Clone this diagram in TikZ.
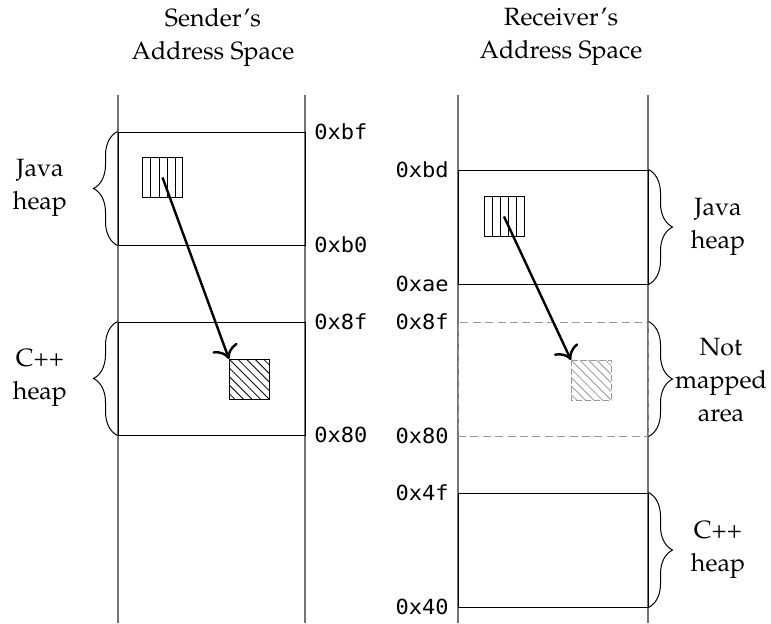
\documentclass[tikz,border=0pt]{standalone}
\usepackage[T1]{fontenc}
\usepackage{fontspec}
\newfontfamily\addrfont[FakeStretch=1.06]{DejaVu Sans Mono}
\usetikzlibrary{decorations.pathreplacing,arrows.meta,fit}
\newcommand\palfont{\fontencoding{T1}\fontfamily{ppl}\selectfont}
\begin{document}
\begin{tikzpicture}[x=0.5pt,y=-0.5pt,
  axisline/.style={draw=black!55,line width=0.6pt},
  membox/.style={draw=black,line width=0.5pt,inner sep=0pt},
  ghostbox/.style={draw=black!40,line width=0.5pt,dash pattern=on 4pt off 2.2pt,inner sep=0pt},
  lbl/.style={align=center,inner sep=0pt,font=\palfont\fontsize{12.5}{16.5}\selectfont},
  addr/.style={inner sep=0pt,font=\addrfont\fontsize{10.4}{12}\selectfont},
  bracedec/.style={decorate,decoration={brace,amplitude=12pt},line width=0.5pt},
  objbox/.style={line width=0.5pt,minimum width=19.5pt,minimum height=19.5pt,inner sep=0pt},
  hatchline/.style={line width=0.4pt},
  flowarrow/.style={line width=1.2pt,-{Computer Modern Rightarrow[scale=1.5]}}
]
\useasboundingbox (0,0) rectangle (771,623);
% address space axes
\coordinate (aL1t) at (118,95); \coordinate (aL1b) at (118,623);
\coordinate (aL2t) at (305,95); \coordinate (aL2b) at (305,623);
\coordinate (aR1t) at (458,95); \coordinate (aR1b) at (458,623);
\coordinate (aR2t) at (648,95); \coordinate (aR2b) at (648,623);
\draw[axisline] (aL1t) -- (aL1b);
\draw[axisline] (aL2t) -- (aL2b);
\draw[axisline] (aR1t) -- (aR1b);
\draw[axisline] (aR2t) -- (aR2b);
% titles
\node[lbl] (titleL) at (213,37) {Sender's\\Address Space};
\node[lbl] (titleR) at (561,37) {Receiver's\\Address Space};
% sender regions
\node[membox,fit={(118,132)(305,245)}] (javaL) {};
\node[membox,fit={(118,322)(305,435)}] (cppL) {};
% receiver regions
\node[membox,fit={(458,170)(648,284)}] (javaR) {};
\node[ghostbox,fit={(458,322)(648,436)}] (nomapR) {};
\node[membox,fit={(458,493)(648,607)}] (cppR) {};
% address labels
\node[addr,anchor=west] (a1) at (314,132) {0xbf};
\node[addr,anchor=west] (a2) at (314,245) {0xb0};
\node[addr,anchor=west] (a3) at (314,322) {0x8f};
\node[addr,anchor=west] (a4) at (314,435) {0x80};
\node[addr,anchor=east] (b1) at (449,170) {0xbd};
\node[addr,anchor=east] (b2) at (449,284) {0xae};
\node[addr,anchor=east] (b3) at (449,322) {0x8f};
\node[addr,anchor=east] (b4) at (449,436) {0x80};
\node[addr,anchor=east] (b5) at (449,493) {0x4f};
\node[addr,anchor=east] (b6) at (449,607) {0x40};
% braces
\draw[bracedec] (javaL.south west) -- (javaL.north west);
\draw[bracedec] (cppL.south west) -- (cppL.north west);
\draw[bracedec] (javaR.north east) -- (javaR.south east);
\draw[bracedec] (nomapR.north east) -- (nomapR.south east);
\draw[bracedec] (cppR.north east) -- (cppR.south east);
% region names
\node[lbl] (nJL) at (40,188) {Java\\heap};
\node[lbl] (nCL) at (40,378) {C++\\heap};
\node[lbl] (nJR) at (718,227) {Java\\heap};
\node[lbl] (nNR) at (721,380) {Not\\mapped\\area};
\node[lbl] (nCR) at (718,550) {C++\\heap};
% objects
\node[objbox] (objL) at (162.5,177.5) {};
\node[objbox] (tgtL) at (249,379) {};
\node[objbox] (objR) at (504,216.5) {};
\node[objbox] (tgtR) at (591,380) {};
% hatching
\begin{scope}
  \clip (objL.north west) rectangle (objL.south east);
  \foreach \k in {1,...,4} \draw[hatchline,shift={(objL.north west)}] (\k*8.2,0) -- ++(0,40);
\end{scope}
\begin{scope}
  \clip (objR.north west) rectangle (objR.south east);
  \foreach \k in {1,...,4} \draw[hatchline,shift={(objR.north west)}] (\k*8.2,0) -- ++(0,40);
\end{scope}
\begin{scope}
  \clip (tgtL.north west) rectangle (tgtL.south east);
  \foreach \k in {-5,...,5} \draw[hatchline,shift={(tgtL.north west)}] (\k*8.6,0) -- ++(45,45);
\end{scope}
\begin{scope}
  \clip (tgtR.north west) rectangle (tgtR.south east);
  \foreach \k in {-5,...,5} \draw[hatchline,black!40,shift={(tgtR.north west)}] (\k*8.6,0) -- ++(45,45);
\end{scope}
\draw[objbox,draw=black] (objL.north west) rectangle (objL.south east);
\draw[objbox,draw=black] (objR.north west) rectangle (objR.south east);
\draw[objbox,draw=black] (tgtL.north west) rectangle (tgtL.south east);
\draw[objbox,draw=black!40,dash pattern=on 3pt off 1.5pt] (tgtR.north west) rectangle (tgtR.south east);
% references
\draw[flowarrow] (objL.center) -- (tgtL.north west);
\draw[flowarrow] (objR.center) -- (tgtR.north west);
\end{tikzpicture}
\end{document}
